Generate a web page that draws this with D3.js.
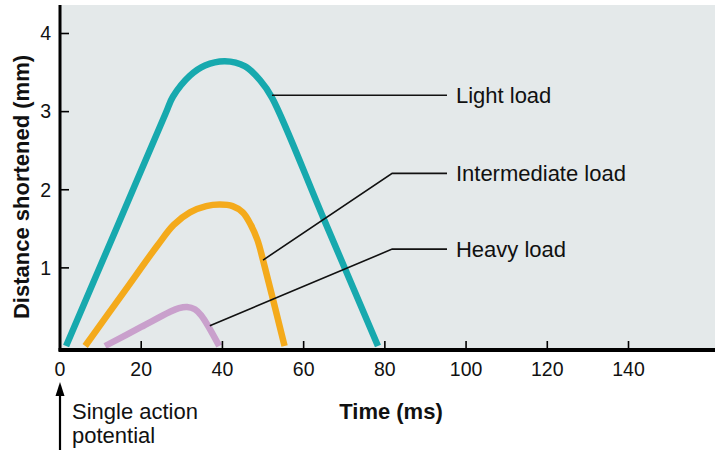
<!DOCTYPE html>
<html><head><meta charset="utf-8">
<script src="https://cdn.jsdelivr.net/npm/d3@7"></script>
<style>
html,body{margin:0;padding:0;background:#fff;}
svg{display:block;font-family:"Liberation Sans",Arial,Helvetica,sans-serif;}
</style></head>
<body>
<svg id="chart" width="722" height="450"></svg>
<script>
// ---- data (time in ms, distance in mm) ----
const xTicks = [0, 20, 40, 60, 80, 100, 120, 140];
const yTicks = [1, 2, 3, 4];
const lightLoad = [[1.5,0],[14,1.518],[26,2.976],[27.8,3.19],[32,3.46],[35.7,3.59],[40.6,3.645],[45.6,3.58],[49.3,3.40],[52.2,3.18],[65,1.621],[78.3,0]];
const intermediateLoad = [[6.2,0],[16,0.709],[24,1.287],[28,1.55],[32,1.71],[36,1.79],[39.4,1.81],[42.5,1.79],[45,1.71],[47,1.55],[48.6,1.36],[50,1.10],[55.3,0]];
const heavyLoad = [[11.1,0],[20,0.244],[27,0.436],[29.3,0.485],[31.3,0.50],[33.2,0.47],[34.8,0.39],[39.2,0]];
const seriesNames = ["Light load", "Intermediate load", "Heavy load"];
const seriesColors = ["#17a9ae", "#f4aa1b", "#c9a0cc"];
// leader lines: anchor on curve, elbow, label level (data units)
const leaderAnchors = [[52.2,3.21],[50.0,1.10],[36.9,0.26]];
const leaderElbows = [[52.2,3.21],[81.8,2.21],[81.8,1.24]];
const leaderEndT = 95.3;
const labelT = 97.5;

const svg = d3.select("#chart");
const x = d3.scaleLinear().domain([0, 161.3]).range([60, 715]);
const y = d3.scaleLinear().domain([0, 4]).range([346, 33.5]);

// plot background
svg.append("rect").attr("x", x(0)).attr("y", 5).attr("width", x(161.3) - x(0)).attr("height", 350 - 5)
  .attr("fill", "#e4e9ea");

// curves
const line = d3.line().x(d => x(d[0])).y(d => y(d[1])).curve(d3.curveCatmullRom.alpha(0.5));
[lightLoad, intermediateLoad, heavyLoad].forEach((s, i) => {
  svg.append("path").attr("d", line(s)).attr("fill", "none")
    .attr("stroke", seriesColors[i]).attr("stroke-width", 6.5).attr("stroke-linejoin", "round");
});

// leader lines and labels
seriesNames.forEach((name, i) => {
  const a = leaderAnchors[i], e = leaderElbows[i];
  const pts = [[x(a[0]), y(a[1])], [x(e[0]), y(e[1])], [x(leaderEndT), y(e[1])]];
  svg.append("path").attr("d", d3.line()(pts)).attr("fill", "none").attr("stroke", "#111").attr("stroke-width", 1.6);
  svg.append("text").attr("x", x(labelT)).attr("y", y(e[1]) + 8).attr("font-size", 22)
    .attr("fill", "#111").text(name);
});

// axes
const yAxis = svg.append("g").attr("transform", `translate(${x(0)},0)`);
yAxis.append("line").attr("x1", 0).attr("x2", 0).attr("y1", 5).attr("y2", 351).attr("stroke", "#000").attr("stroke-width", 3);
yAxis.selectAll("g.t").data(yTicks).join("g").attr("class","t").attr("transform", d => `translate(0,${y(d)})`)
  .each(function(d){
    const g = d3.select(this);
    g.append("line").attr("x1", 0).attr("x2", 9).attr("stroke", "#000").attr("stroke-width", 1.6);
    g.append("text").attr("x", -9).attr("dy", "0.35em").attr("text-anchor", "end").attr("font-size", 19.5).attr("fill","#111").text(d);
  });

const xAxis = svg.append("g").attr("transform", `translate(0,350)`);
xAxis.append("line").attr("x1", x(0) - 1.5).attr("x2", 715).attr("y1", 0).attr("y2", 0).attr("stroke", "#000").attr("stroke-width", 4);
xAxis.selectAll("g.t").data(xTicks).join("g").attr("class","t").attr("transform", d => `translate(${x(d)},0)`)
  .each(function(d){
    const g = d3.select(this);
    if (d !== 0) g.append("line").attr("y1", 0).attr("y2", -9).attr("stroke", "#000").attr("stroke-width", 1.6);
    g.append("text").attr("y", 26).attr("text-anchor", "middle").attr("font-size", 19.5).attr("fill","#111").text(d);
  });

// axis titles
svg.append("text").attr("x", 391).attr("y", 419).attr("text-anchor", "middle")
  .attr("font-size", 22).attr("font-weight", "bold").attr("fill", "#111").text("Time (ms)");
svg.append("text").attr("transform", "translate(29,187) rotate(-90)").attr("text-anchor", "middle")
  .attr("font-size", 22).attr("font-weight", "bold").attr("fill", "#111").text("Distance shortened (mm)");

// stimulus arrow
svg.append("line").attr("x1", x(0)).attr("x2", x(0)).attr("y1", 392).attr("y2", 450).attr("stroke", "#000").attr("stroke-width", 2.2);
svg.append("path").attr("d", `M${x(0)},382 L${x(0)-4.5},396 L${x(0)+4.5},396 Z`).attr("fill", "#000");
svg.append("text").attr("x", 72).attr("y", 419).attr("font-size", 22).attr("fill", "#111").text("Single action");
svg.append("text").attr("x", 72).attr("y", 443).attr("font-size", 22).attr("fill", "#111").text("potential");
</script>
</body></html>
